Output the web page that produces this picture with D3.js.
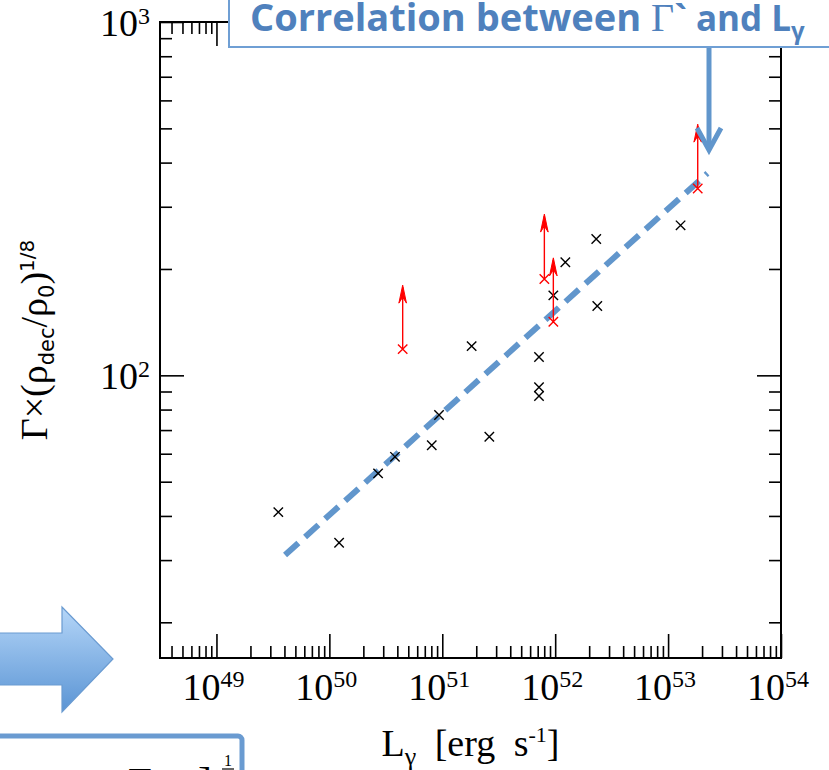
<!DOCTYPE html>
<html lang="en">
<head>
  <meta charset="UTF-8">
  <title>Gamma vs L_gamma</title>
  <script src="https://d3js.org/d3.v7.min.js"></script>
  <style>
    body { margin: 0; background: #fff; }
    svg { display: block; }
    .frame { fill: none; stroke: #000; stroke-width: 2; }
    .ax path { display: none; }
    .ax line { stroke: #000; stroke-width: 1.6; }
    .tick-label { font-family: "Liberation Serif", serif; font-size: 38px; fill: #000; }
    .title { font-family: "Open Sans", Lato, sans-serif; font-weight: bold; font-size: 38px; fill: #4f81bd; }
  </style>
</head>
<body>
<div id="chart"></div>
<script>
  // Luminosity (erg/s) and Gamma*(rho_dec/rho_0)^(1/8) for the measured bursts
  const blackL = [3.53e49, 1.22e50, 2.70e50, 3.81e50, 8.07e50, 9.36e50, 1.82e51, 2.61e51,
                  7.19e51, 7.19e51, 7.19e51, 9.63e51, 1.23e52, 2.31e52, 2.36e52, 1.29e53];
  const blackG = [41.0, 33.6, 52.8, 58.8, 63.4, 77.2, 121, 67.0,
                  112.7, 92.5, 87.4, 168.4, 208.9, 243.1, 157.1, 265.8];

  // lower limits (red, with arrows)
  const limitL = [4.46e50, 8.02e51, 9.63e51, 1.83e53];
  const limitG = [118.6, 187.4, 141.8, 338];
  const limitTop = [180, 286, 215, 514];

  // best fit line end points
  const fitL = [4.05e49, 2.23e53];
  const fitG = [31.0, 373];

  // ticks
  const xMajor = [1e49, 1e50, 1e51, 1e52, 1e53, 1e54];
  const xExp = ["49", "50", "51", "52", "53", "54"];
  const yMajor = [100, 1000];
  const yExp = ["2", "3"];

  const width = 829, height = 770;
  const margin = { top: 22, right: 48, bottom: 112, left: 160 };

  const svg = d3.select("#chart").append("svg")
    .attr("width", width)
    .attr("height", height);

  const x = d3.scaleLog().domain([Math.pow(10, 48.5), 1e54]).range([margin.left, width - margin.right]);
  const y = d3.scaleLog().domain([Math.pow(10, 1.2), 1000]).range([height - margin.bottom, margin.top]);

  const x0 = x.range()[0], x1 = x.range()[1];
  const y0 = y.range()[0], y1 = y.range()[1];

  // minor ticks: 2..9 of every decade inside the domain
  const xMinor = x.ticks().filter(v => xMajor.indexOf(v) < 0);
  const yMinor = y.ticks().filter(v => yMajor.indexOf(v) < 0 && v >= 20);

  const axes = [
    { fn: d3.axisBottom, s: x, t: `translate(0,${y0})`, maj: xMajor, min: xMinor },
    { fn: d3.axisTop, s: x, t: `translate(0,${y1})`, maj: xMajor, min: xMinor },
    { fn: d3.axisLeft, s: y, t: `translate(${x0},0)`, maj: yMajor, min: yMinor },
    { fn: d3.axisRight, s: y, t: `translate(${x1},0)`, maj: yMajor, min: yMinor }
  ];
  axes.forEach(a => {
    svg.append("g").attr("class", "ax").attr("transform", a.t)
      .call(a.fn(a.s).tickValues(a.maj).tickSize(-24).tickFormat(""));
    svg.append("g").attr("class", "ax").attr("transform", a.t)
      .call(a.fn(a.s).tickValues(a.min).tickSize(-12).tickFormat(""));
  });

  svg.append("rect").attr("class", "frame")
    .attr("x", x0).attr("y", y1)
    .attr("width", x1 - x0).attr("height", y0 - y1);

  // x tick labels
  xMajor.forEach((v, i) => {
    const t = svg.append("text").attr("class", "tick-label")
      .attr("x", x(v) - 3).attr("y", y0 + 42).attr("text-anchor", "middle");
    t.append("tspan").text("10");
    t.append("tspan").attr("font-size", 24).attr("dy", -13).text(xExp[i]);
  });

  // y tick labels
  yMajor.forEach((v, i) => {
    const t = svg.append("text").attr("class", "tick-label")
      .attr("x", x0 - 10).attr("y", y(v) + 14).attr("text-anchor", "end");
    t.append("tspan").text("10");
    t.append("tspan").attr("font-size", 24).attr("dy", -12).text(yExp[i]);
  });

  // axis titles
  const xt = svg.append("text").attr("class", "tick-label")
    .attr("x", (x0 + x1) / 2).attr("y", 756)
    .attr("text-anchor", "middle").attr("font-size", 41)
    .style("word-spacing", "9px");
  xt.append("tspan").text("L");
  xt.append("tspan").attr("font-size", 26).attr("dy", 9).text("γ");
  xt.append("tspan").attr("dy", -9).text(" [erg s");
  xt.append("tspan").attr("font-size", 22).attr("dy", -14).text("-1");
  xt.append("tspan").attr("dy", 14).text("]");

  const yt = svg.append("text").attr("class", "tick-label")
    .attr("transform", `translate(47,${(y0 + y1) / 2}) rotate(-90)`)
    .attr("text-anchor", "middle").attr("font-size", 31);
  yt.append("tspan").text("Γ×(ρ");
  yt.append("tspan").attr("font-family", "DejaVu Sans").attr("font-size", 21).attr("dy", 7).text("dec");
  yt.append("tspan").attr("dy", -7).text("/ρ");
  yt.append("tspan").attr("font-family", "DejaVu Sans").attr("font-size", 21).attr("dy", 7).text("0");
  yt.append("tspan").attr("dy", -7).text(")");
  yt.append("tspan").attr("font-family", "DejaVu Sans").attr("font-size", 20).attr("dy", -13).text("1/8");

  // fit line
  const fit = fitL.map((v, i) => [v, fitG[i]]);
  svg.append("path")
    .attr("d", d3.line().x(d => x(d[0])).y(d => y(d[1]))(fit))
    .attr("fill", "none")
    .attr("stroke", "#6196cc")
    .attr("stroke-width", 6)
    .attr("stroke-dasharray", "18,9");

  function cross(g, cx, cy, color) {
    const r = 4.7;
    g.append("path")
      .attr("d", `M${cx - r},${cy - r}L${cx + r},${cy + r}M${cx - r},${cy + r}L${cx + r},${cy - r}`)
      .attr("stroke", color).attr("stroke-width", 1.4).attr("fill", "none");
  }

  const pts = svg.append("g");
  blackL.forEach((v, i) => cross(pts, x(v), y(blackG[i]), "#000"));

  limitL.forEach((v, i) => {
    const cx = x(v), cy = y(limitG[i]), ty = y(limitTop[i]);
    pts.append("line")
      .attr("x1", cx).attr("x2", cx).attr("y1", cy).attr("y2", ty + 2)
      .attr("stroke", "#ff0000").attr("stroke-width", 1.4);
    pts.append("path")
      .attr("d", `M${cx},${ty}L${cx + 3.8},${ty + 18}L${cx},${ty + 12}L${cx - 3.8},${ty + 18}Z`)
      .attr("fill", "#ff0000").attr("stroke", "#ff0000").attr("stroke-width", 1);
    cross(pts, cx, cy, "#ff0000");
  });

  // slide overlays: title box with arrow
  svg.append("rect")
    .attr("x", 229).attr("y", -10).attr("width", 640).attr("height", 57)
    .attr("fill", "#fff").attr("stroke", "#6f9fd4").attr("stroke-width", 2);
  const title = svg.append("text").attr("class", "title").attr("x", 250).attr("y", 31);
  title.append("tspan").text("Correlation between ");
  title.append("tspan").attr("font-family", "Liberation Serif").attr("font-weight", "normal").attr("font-size", 40).text("Γ");
  title.append("tspan").attr("font-size", 35).text("` and L");
  title.append("tspan").attr("font-size", 24).attr("dy", 8).text("γ");

  svg.append("line")
    .attr("x1", 709).attr("x2", 709).attr("y1", 48).attr("y2", 148)
    .attr("stroke", "#6196cc").attr("stroke-width", 5);
  svg.append("path")
    .attr("d", "M697,128L709,150L721,128")
    .attr("fill", "none").attr("stroke", "#6196cc").attr("stroke-width", 5);

  // left block arrow
  const grad = svg.append("defs").append("linearGradient")
    .attr("id", "blk").attr("x1", 0).attr("y1", 0).attr("x2", 0).attr("y2", 1);
  grad.append("stop").attr("offset", "0%").attr("stop-color", "#b5d6f8");
  grad.append("stop").attr("offset", "100%").attr("stop-color", "#5a94d4");
  svg.append("path")
    .attr("d", "M-5,633L62,633L62,607L113,659L62,712L62,685L-5,685Z")
    .attr("fill", "url(#blk)").attr("stroke", "#6a9bd1").attr("stroke-width", 1.2);

  // bottom-left formula box (mostly off the picture)
  svg.append("rect")
    .attr("x", -10).attr("y", 736).attr("width", 252).attr("height", 80).attr("rx", 4)
    .attr("fill", "#fff").attr("stroke", "#6a9bd1").attr("stroke-width", 5);
  const fx = svg.append("g").attr("class", "tick-label");
  fx.append("text").attr("x", 8).attr("y", 796).attr("font-size", 40).text("t");
  fx.append("text").attr("x", 128).attr("y", 797).attr("font-size", 42).text("Γ");
  fx.append("text").attr("x", 198).attr("y", 796).attr("font-size", 42).text("]");
  fx.append("text").attr("x", 224).attr("y", 766).attr("font-size", 16).text("1");
  svg.append("line").attr("x1", 222).attr("x2", 234).attr("y1", 769).attr("y2", 769)
    .attr("stroke", "#000").attr("stroke-width", 1.2);
</script>
</body>
</html>
